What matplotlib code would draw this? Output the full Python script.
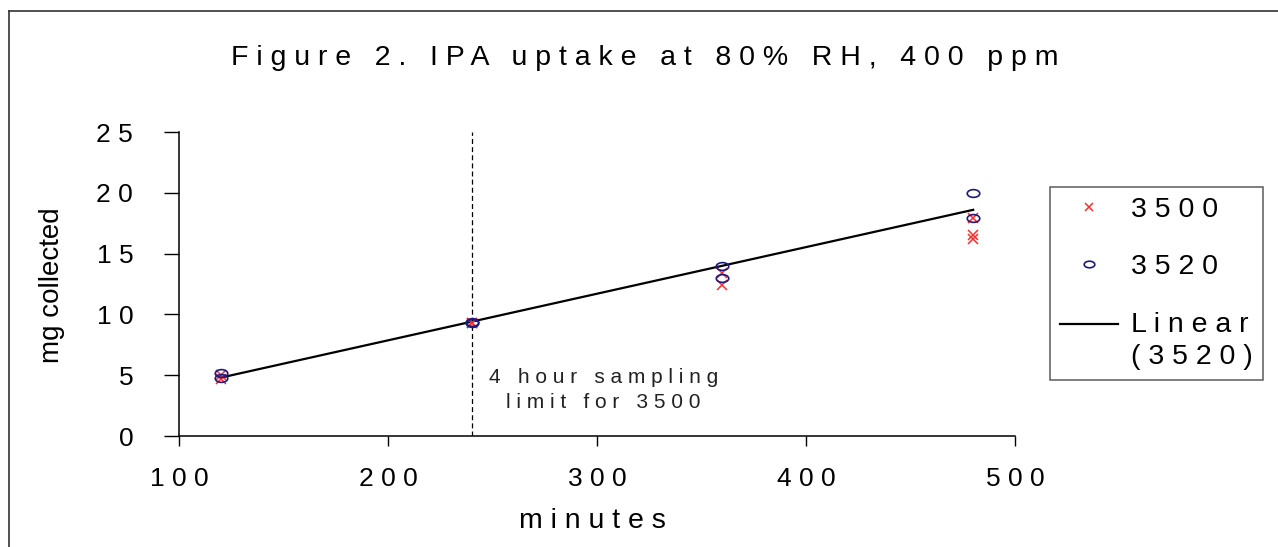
#!/usr/bin/env python3

import matplotlib
matplotlib.use("Agg")
import matplotlib.pyplot as plt
from matplotlib.lines import Line2D
from matplotlib.path import Path
from matplotlib.legend_handler import HandlerLine2D
import numpy as np

plt.rcParams["font.family"] = ["Liberation Sans", "DejaVu Sans"]

# Data
minutes_3500 = [120, 120, 240, 240, 360, 360, 480, 480, 480]
mg_3500 = [5.0, 4.7, 9.3, 9.3, 13.4, 12.4, 17.9, 16.5, 16.2]

minutes_3520 = [120, 120, 240, 240, 360, 360, 480, 480]
mg_3520 = [5.2, 4.8, 9.3, 9.4, 14.0, 13.0, 20.0, 17.9]

x_ticks = [100, 200, 300, 400, 500]
y_ticks = [0, 5, 10, 15, 20, 25]
limit_minutes = 240

title_text = "Figure 2. IPA uptake at 80% RH, 400 ppm"
x_label = "minutes"
y_label = "mg collected"
note_text = ["4 hour sampling", "limit for 3500"]
legend_labels = ["3500", "3520", "Linear\n(3520)"]


def spaced(s):
    # letter-spaced look of the original
    return "\n".join(" ".join(line) for line in s.split("\n"))


class TopLineHandler(HandlerLine2D):
    # put the trend line next to the first line of its two-line label
    def create_artists(self, legend, orig_handle, xdescent, ydescent, width,
                       height, fontsize, trans):
        artists = super().create_artists(legend, orig_handle, xdescent, ydescent,
                                         width, height, fontsize, trans)
        for a in artists:
            a.set_ydata(np.asarray(a.get_ydata()) + 0.58 * fontsize)
        return artists


# flat ellipse marker like the original's circles
circ = Path.unit_circle()
ellipse = Path(circ.vertices * np.array([1.0, 0.62]), circ.codes)

W, H = 1278, 547
fig = plt.figure(figsize=(W / 100, H / 100), dpi=100)
ax = fig.add_axes([179 / W, 1 - 436 / H, (1015 - 179) / W, (436 - 132) / H])

# outer frame (top and left only)
fig.add_artist(Line2D([9 / W, 1], [1 - 11 / H, 1 - 11 / H], color="#333333", lw=1.2))
fig.add_artist(Line2D([9 / W, 9 / W], [0, 1 - 11 / H], color="#333333", lw=1.2))

ax.plot(minutes_3500, mg_3500, linestyle="none", marker="x", color="#ff2a2a",
        markersize=7.5, markeredgewidth=1.1, label=spaced(legend_labels[0]), zorder=3)
ax.plot(minutes_3520, mg_3520, linestyle="none", marker=ellipse, color="#1a1a80",
        markerfacecolor="none", markersize=9, markeredgewidth=1.2,
        label=spaced(legend_labels[1]), zorder=3)

# linear trend of the 3520 data
coef = np.polyfit(minutes_3520, mg_3520, 1)
fit_x = np.array([min(minutes_3520), max(minutes_3520)])
trend, = ax.plot(fit_x, np.polyval(coef, fit_x), color="black", lw=1.6,
                 label=spaced(legend_labels[2]), zorder=2)

ax.vlines(limit_minutes, 0, 25, colors="black", linestyles=(0, (4, 2.5)), lw=0.9)
ax.text(303, 3.8, spaced("\n".join(note_text)), ha="center", va="center",
        fontsize=15, color="#222222", linespacing=1.4)

ax.set_xlim(100, 500)
ax.set_ylim(0, 25)
ax.set_xticks(x_ticks)
ax.set_xticklabels([spaced(str(v)) for v in x_ticks])
ax.set_yticks(y_ticks)
ax.set_yticklabels([spaced(str(v)) for v in y_ticks])
ax.tick_params(axis="x", direction="out", length=7, width=1, pad=15, labelsize=19)
ax.tick_params(axis="y", direction="out", length=11, width=1, pad=22, labelsize=19)
for side in ["top", "right"]:
    ax.spines[side].set_visible(False)
for side in ["left", "bottom"]:
    ax.spines[side].set_linewidth(1.1)

fig.text(645 / W, 1 - 58 / H, spaced(title_text), ha="center", va="center", fontsize=20.5)
fig.text(592 / W, 1 - 521 / H, spaced(x_label), ha="center", va="center", fontsize=20.5)
fig.text(52 / W, 1 - 285 / H, y_label, ha="center", va="center", rotation=90, fontsize=20)

leg = ax.legend(loc="upper left", bbox_to_anchor=(1050 / W, 1 - 187 / H),
                bbox_transform=fig.transFigure, borderaxespad=0, fontsize=20.5,
                frameon=True, fancybox=False, edgecolor="#333333",
                handlelength=2.05, handletextpad=0.45, labelspacing=1.1,
                borderpad=0.35, markerscale=0.85,
                handler_map={trend: TopLineHandler()})
leg.get_frame().set_linewidth(1.1)
leg.get_texts()[2].set_linespacing(1.3)

fig.savefig("out.png", dpi=100)
